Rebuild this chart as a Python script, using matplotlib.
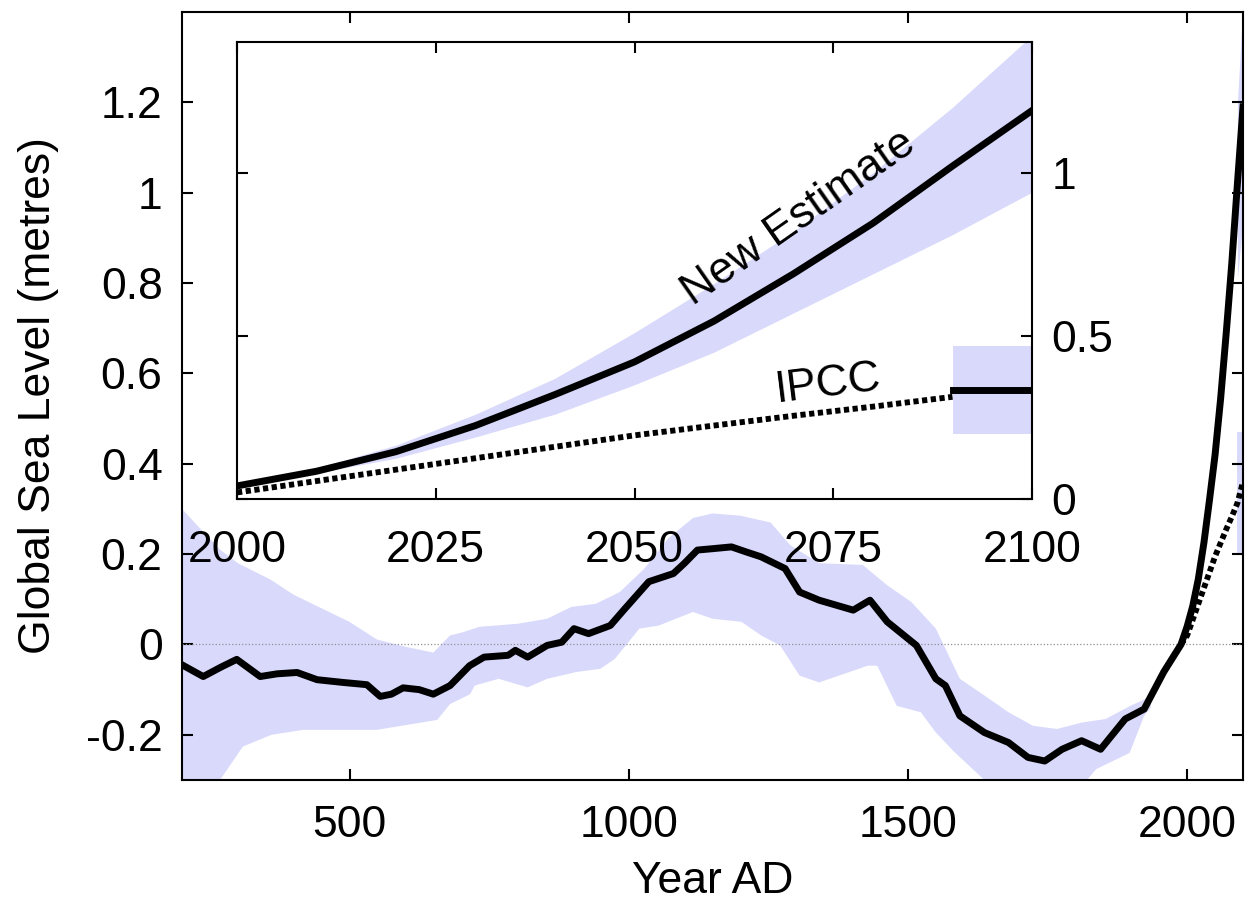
import matplotlib
matplotlib.use("Agg")
import matplotlib.pyplot as plt

plt.rcParams['font.family'] = ['Liberation Sans', 'DejaVu Sans']

# reconstructed sea level, 200-1990 AD
hist_years = [200, 238, 270, 298, 340, 370, 406, 442, 488, 531, 555, 575, 596, 625, 650,
              680, 715, 741, 784, 797, 819, 854, 880, 902, 928, 967, 993, 1036, 1080, 1100,
              1123, 1150, 1184, 1210, 1237, 1280, 1306, 1341, 1402, 1432, 1463, 1489, 1515,
              1550, 1567, 1593, 1637, 1680, 1715, 1745, 1776, 1811, 1845, 1889, 1923, 1958, 1989]
hist_level = [-0.045, -0.071, -0.05, -0.033, -0.071, -0.065, -0.062, -0.078, -0.084, -0.089,
              -0.115, -0.11, -0.096, -0.1, -0.11, -0.091, -0.047, -0.028, -0.024, -0.013,
              -0.028, -0.002, 0.005, 0.035, 0.024, 0.042, 0.079, 0.139, 0.157, 0.18,
              0.209, 0.212, 0.216, 0.205, 0.194, 0.168, 0.116, 0.098, 0.076, 0.098, 0.05,
              0.024, -0.002, -0.076, -0.091, -0.158, -0.195, -0.217, -0.25, -0.258, -0.232,
              -0.213, -0.232, -0.165, -0.143, -0.061, 0.0]

# uncertainty band of the reconstruction
band_hi_years = [200, 230, 268, 300, 358, 400, 450, 500, 549, 600, 650, 680, 703, 732, 802,
                 854, 897, 941, 984, 1028, 1071, 1115, 1150, 1200, 1254, 1289, 1341, 1419,
                 1463, 1506, 1550, 1593, 1637, 1680, 1724, 1767, 1811, 1854, 1898, 1935]
band_hi = [0.30, 0.26, 0.21, 0.18, 0.144, 0.11, 0.08, 0.05, 0.011, -0.005, -0.018, 0.02,
           0.027, 0.039, 0.046, 0.057, 0.083, 0.09, 0.116, 0.168, 0.235, 0.28, 0.29, 0.285,
           0.27, 0.22, 0.18, 0.176, 0.131, 0.094, 0.035, -0.076, -0.113, -0.15, -0.18,
           -0.187, -0.173, -0.165, -0.136, -0.115]
band_lo_years = [200, 268, 309, 360, 417, 549, 657, 680, 716, 724, 767, 819, 854, 906, 949,
                 975, 1019, 1054, 1115, 1150, 1202, 1237, 1271, 1306, 1341, 1428, 1445, 1480,
                 1523, 1550, 1584, 1610, 1637, 1700, 1800, 1837, 1897, 1923, 1935]
band_lo = [-0.40, -0.30, -0.226, -0.2, -0.189, -0.189, -0.167, -0.132, -0.11, -0.091, -0.076,
           -0.095, -0.076, -0.061, -0.054, -0.032, 0.035, 0.042, 0.072, 0.057, 0.05, 0.02,
           -0.002, -0.069, -0.084, -0.047, -0.047, -0.136, -0.15, -0.195, -0.239, -0.269,
           -0.30, -0.33, -0.33, -0.276, -0.24, -0.158, -0.14]

# projections 2000-2100
proj_years = [2000, 2010, 2020, 2030, 2040, 2050, 2060, 2070, 2080, 2090, 2100]
new_est = [0.04, 0.085, 0.145, 0.225, 0.32, 0.42, 0.545, 0.69, 0.845, 1.02, 1.19]
new_hi = [0.04, 0.095, 0.165, 0.26, 0.37, 0.51, 0.66, 0.82, 1.00, 1.20, 1.42]
new_lo = [0.04, 0.08, 0.125, 0.19, 0.26, 0.35, 0.45, 0.57, 0.69, 0.81, 0.94]
ipcc = [0.02, 0.055, 0.09, 0.125, 0.16, 0.195, 0.225, 0.255, 0.283, 0.313, 0.36]
ipcc_end_years = [2090, 2100]
ipcc_end = 0.335
ipcc_end_lo = 0.20
ipcc_end_hi = 0.47

main_xticks = [500, 1000, 1500, 2000]
main_yticks = [-0.2, 0, 0.2, 0.4, 0.6, 0.8, 1.0, 1.2]
main_ylabels = ['-0.2', '0', '0.2', '0.4', '0.6', '0.8', '1', '1.2']
inset_xticks = [2000, 2025, 2050, 2075, 2100]
inset_yticks = [0, 0.5, 1.0]
inset_ylabels = ['0', '0.5', '1']

band_col = '#d9d9fc'
dots = (0, (0.9, 0.6))
fs = 32

fig = plt.figure(figsize=(12.46, 9.09), dpi=100)
ax = fig.add_axes([182 / 1246, 129 / 909, 1061 / 1246, 768 / 909])

ax.fill(band_hi_years + band_lo_years[::-1], band_hi + band_lo[::-1],
        color=band_col, lw=0, zorder=1)
ax.fill_between(proj_years[-2:], new_lo[-2:], new_hi[-2:], color=band_col, lw=0, zorder=1)
ax.fill_between(ipcc_end_years, ipcc_end_lo, ipcc_end_hi, color=band_col, lw=0, zorder=1)
ax.axhline(0, color='#909090', lw=0.9, ls=':', zorder=2)
ax.plot([1989] + proj_years, [0.0] + ipcc, color='black', lw=4.2, ls=dots, zorder=3)
ax.plot(hist_years + proj_years, hist_level + new_est, color='black', lw=5,
        solid_joinstyle='round', zorder=4)

ax.set_xlim(200, 2100)
ax.set_ylim(-0.3, 1.4)
ax.set_xticks(main_xticks)
ax.set_yticks(main_yticks)
ax.set_yticklabels(main_ylabels)
ax.tick_params(direction='in', length=8, width=1.5, top=True, right=True,
               labelsize=fs, pad=14)
ax.tick_params(axis='x', pad=18)
for s in ax.spines.values():
    s.set_linewidth(1.5)
ax.set_xlabel('Year AD', fontsize=fs, labelpad=11)
ax.set_ylabel('Global Sea Level (metres)', fontsize=fs, labelpad=19)

# inset with the projections
ins = fig.add_axes([237 / 1246, 410 / 909, 795 / 1246, 457 / 909])
ins.fill_between(proj_years, new_lo, new_hi, color=band_col, lw=0, zorder=1)
ins.fill_between(ipcc_end_years, ipcc_end_lo, ipcc_end_hi, color=band_col, lw=0, zorder=1)
ins.plot(proj_years[:-1], ipcc[:-1], color='black', lw=4.2, ls=dots, zorder=3)
ins.plot(ipcc_end_years, [ipcc_end, ipcc_end], color='black', lw=5, zorder=3)
ins.plot(proj_years, new_est, color='black', lw=5, zorder=4)
ins.text(2058, 0.57, 'New Estimate', fontsize=fs, rotation=35, rotation_mode='anchor',
         ha='left', va='bottom')
ins.text(2068, 0.27, 'IPCC', fontsize=fs, rotation=7, rotation_mode='anchor',
         ha='left', va='bottom')

ins.set_xlim(2000, 2100)
ins.set_ylim(0, 1.4)
ins.set_xticks(inset_xticks)
ins.set_yticks(inset_yticks)
ins.set_yticklabels(inset_ylabels)
ins.tick_params(direction='in', length=8, width=1.5, top=True, right=True,
                labelleft=False, labelright=True, labelsize=fs, pad=14)
ins.tick_params(axis='x', pad=22)
for s in ins.spines.values():
    s.set_linewidth(1.5)

fig.savefig('out.png', dpi=100)
